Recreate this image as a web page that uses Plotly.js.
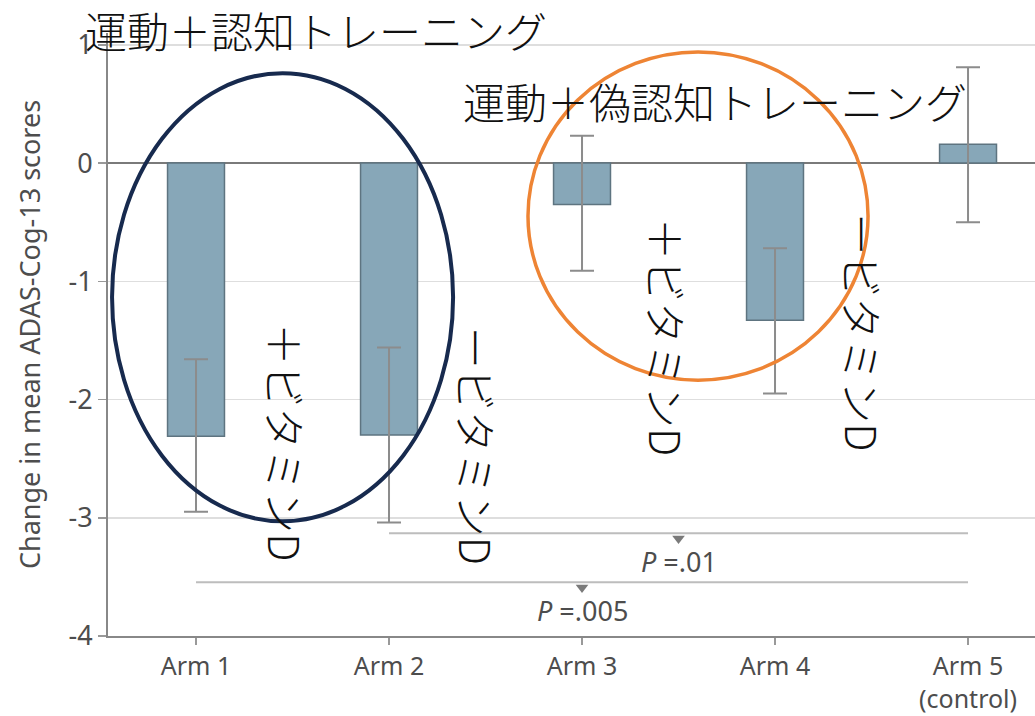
<!DOCTYPE html>
<html>
<head>
<meta charset="utf-8">
<script src="https://cdn.plot.ly/plotly-3.0.1.min.js"></script>
<style>
  html, body { margin: 0; padding: 0; background: #fff; }
  #chart { width: 1035px; height: 716px; }
</style>
</head>
<body>
<div id="chart"></div>
<script>
// Study arms and mean change in ADAS-Cog-13 with 95% CI bounds
const arms = ['Arm 1', 'Arm 2', 'Arm 3', 'Arm 4', 'Arm 5<br>(control)'];
const meanChange = [-2.31, -2.30, -0.35, -1.33, 0.16];
const ciUpper = [-1.66, -1.56, 0.23, -0.72, 0.81];
const ciLower = [-2.95, -3.04, -0.91, -1.95, -0.50];

// Pairwise comparisons against the control arm (indexes into arms)
const compFrom = [1, 0];
const compTo = [4, 4];
const compLevel = [-3.13, -3.545];
const compLabels = ['<i>P</i> =.01', '<i>P</i> =.005'];

const yTicks = [-4, -3, -2, -1, 0, 1];
const yTickText = ['-4', '-3', '-2', '-1', '0', '1'];

const armIdx = arms.map((_, i) => i);
const errPlus = meanChange.map((m, i) => ciUpper[i] - m);
const errMinus = meanChange.map((m, i) => m - ciLower[i]);

const grey = '#4d4d4d';
const tickFont = { family: '"Noto Sans", sans-serif', size: 27, color: grey };
const jpFont = { family: '"Noto Sans CJK JP", sans-serif', size: 42, color: '#111', weight: 300 };

const traces = [{
  type: 'bar',
  x: armIdx,
  y: meanChange,
  width: 0.295,
  marker: { color: '#87a7b8', line: { color: '#5e7480', width: 1.5 } },
  error_y: {
    type: 'data', symmetric: false,
    array: errPlus, arrayminus: errMinus,
    color: '#8c8c8c', thickness: 2, width: 12
  },
  hoverinfo: 'skip'
}];

compFrom.forEach((a, k) => {
  const b = compTo[k];
  traces.push({
    type: 'scatter', mode: 'lines',
    x: [a, b], y: [compLevel[k], compLevel[k]],
    line: { color: '#bdbdbd', width: 2 }, hoverinfo: 'skip'
  });
  traces.push({
    type: 'scatter', mode: 'markers',
    x: [(a + b) / 2], y: [compLevel[k] - 0.045],
    marker: { symbol: 'triangle-down', size: 11, color: '#7a7a7a' },
    hoverinfo: 'skip'
  });
});

const annotations = compFrom.map((a, k) => ({
  x: (a + compTo[k]) / 2, y: compLevel[k] - 0.24,
  xref: 'x', yref: 'y', showarrow: false,
  text: compLabels[k], font: tickFont
}));

// Group headings and vertical vitamin D labels
annotations.push(
  { x: 0.224, y: 1.005, xref: 'paper', yref: 'paper', xanchor: 'center', yanchor: 'middle',
    showarrow: false, text: '運動＋認知トレーニング', font: jpFont },
  { x: 2.69, y: 0.53, xref: 'x', yref: 'y', showarrow: false, text: '運動＋偽認知トレーニング', font: jpFont },
  { x: 0.47, y: -2.36, xref: 'x', yref: 'y', showarrow: false, textangle: 90, text: '＋ビタミンD', font: jpFont },
  { x: 1.46, y: -2.39, xref: 'x', yref: 'y', showarrow: false, textangle: 90, text: 'ービタミンD', font: jpFont },
  { x: 2.44, y: -1.47, xref: 'x', yref: 'y', showarrow: false, textangle: 90, text: '＋ビタミンD', font: jpFont },
  { x: 3.46, y: -1.43, xref: 'x', yref: 'y', showarrow: false, textangle: 90, text: 'ービタミンD', font: jpFont }
);

const shapes = [
  { type: 'circle', xref: 'x', yref: 'y', x0: -0.435, x1: 1.332, y0: -3.03, y1: 0.76,
    line: { color: '#172a4e', width: 4 }, layer: 'above' },
  { type: 'circle', xref: 'x', yref: 'y', x0: 1.72, x1: 3.482, y0: -1.836, y1: 0.94,
    line: { color: '#ee8434', width: 3.5 }, layer: 'above' }
];

const layout = {
  width: 1035, height: 716,
  margin: { l: 108, r: 0, t: 33, b: 80 },
  paper_bgcolor: '#fff', plot_bgcolor: '#fff',
  showlegend: false,
  bargap: 0,
  xaxis: {
    range: [-0.456, 4.347],
    tickvals: armIdx, ticktext: arms,
    showgrid: false, zeroline: false,
    showline: true, linecolor: '#888', linewidth: 2,
    ticks: 'outside', ticklen: 7, tickcolor: '#999', tickwidth: 1.5,
    tickfont: Object.assign({}, tickFont, { size: 25 })
  },
  yaxis: {
    range: [-4, 1.1],
    tickvals: yTicks, ticktext: yTickText,
    showgrid: true, gridcolor: '#dedede', gridwidth: 1.5,
    zeroline: true, zerolinecolor: '#7a7a7a', zerolinewidth: 2,
    showline: true, linecolor: '#888', linewidth: 2,
    ticks: 'outside', ticklen: 8, tickcolor: '#999', tickwidth: 1.5,
    tickfont: tickFont,
    title: { text: 'Change in mean ADAS-Cog-13 scores', font: { family: '"Noto Sans", sans-serif', size: 27, color: grey }, standoff: 20 }
  },
  annotations: annotations,
  shapes: shapes
};

Plotly.newPlot('chart', traces, layout, { displayModeBar: false, staticPlot: true });
</script>
</body>
</html>
